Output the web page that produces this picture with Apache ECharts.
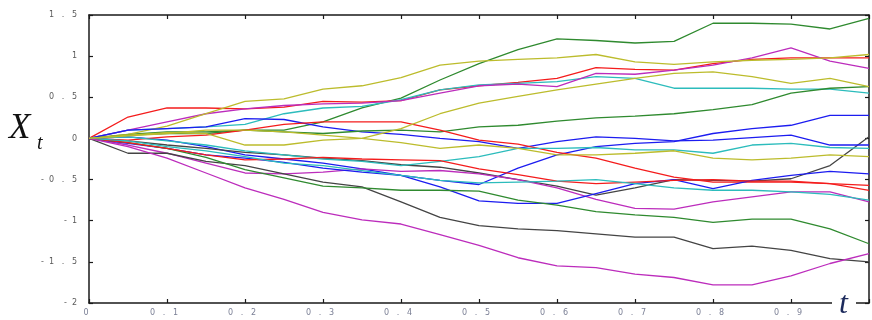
<!DOCTYPE html>
<html><head><meta charset="utf-8">
<script src="https://cdn.jsdelivr.net/npm/echarts@6/dist/echarts.min.js"></script>
<style>html,body{margin:0;padding:0;background:#fff}#c{width:872px;height:320px}</style>
</head><body><div id="c"></div>
<script>
// time grid (t)
const tValues = [0,0.05,0.1,0.15,0.2,0.25,0.3,0.35,0.4,0.45,0.5,0.55,0.6,0.65,0.7,0.75,0.8,0.85,0.9,0.95,1.0];

// paths (X_t at each t)
const blue1   = [0,0.02,-0.02,-0.1,-0.2,-0.25,-0.3,-0.37,-0.45,-0.51,-0.56,-0.36,-0.2,-0.1,-0.06,-0.04,0.06,0.12,0.16,0.28,0.28];
const green1  = [0,0.05,0.08,0.08,0.10,0.10,0.20,0.37,0.49,0.71,0.91,1.08,1.21,1.19,1.16,1.18,1.40,1.40,1.39,1.33,1.46];
const red1    = [0,0.26,0.37,0.37,0.36,0.38,0.45,0.44,0.46,0.59,0.64,0.68,0.73,0.86,0.84,0.83,0.91,0.96,0.98,0.98,0.98];
const cyan1   = [0,0.1,0.12,0.14,0.17,0.3,0.37,0.39,0.47,0.59,0.65,0.67,0.69,0.75,0.73,0.61,0.61,0.61,0.60,0.60,0.55];
const magenta1= [0,0.1,0.2,0.3,0.36,0.40,0.42,0.43,0.46,0.55,0.64,0.66,0.63,0.79,0.78,0.83,0.89,0.98,1.10,0.94,0.85];
const yellow1 = [0,0.05,0.15,0.3,0.45,0.48,0.6,0.64,0.74,0.89,0.94,0.96,0.98,1.02,0.93,0.90,0.93,0.95,0.96,0.98,1.02];
const black1  = [0,-0.03,-0.08,-0.12,-0.17,-0.2,-0.24,-0.27,-0.32,-0.35,-0.42,-0.5,-0.58,-0.69,-0.6,-0.5,-0.51,-0.52,-0.49,-0.33,0.02];
const blue2   = [0,0.1,0.12,0.14,0.24,0.23,0.14,0.08,0.05,0.0,-0.04,-0.12,-0.04,0.02,0.0,-0.03,-0.02,0.01,0.04,-0.08,-0.08];
const green2  = [0,0.04,0.06,0.06,0.1,0.08,0.06,0.09,0.1,0.08,0.14,0.16,0.21,0.25,0.27,0.3,0.35,0.41,0.55,0.61,0.63];
const red2    = [0,-0.02,0.02,0.04,0.1,0.17,0.2,0.2,0.2,0.1,-0.02,-0.07,-0.17,-0.24,-0.36,-0.47,-0.53,-0.53,-0.53,-0.55,-0.63];
const cyan2   = [0,0.02,-0.03,-0.08,-0.15,-0.2,-0.25,-0.28,-0.33,-0.28,-0.22,-0.12,-0.12,-0.11,-0.14,-0.14,-0.18,-0.08,-0.06,-0.11,-0.12];
const magenta2= [0,-0.08,-0.18,-0.3,-0.42,-0.43,-0.41,-0.37,-0.4,-0.39,-0.43,-0.5,-0.6,-0.74,-0.85,-0.86,-0.77,-0.71,-0.65,-0.65,-0.77];
const yellow2 = [0,0.04,0.07,0.06,-0.08,-0.08,-0.02,0.0,0.12,0.30,0.43,0.51,0.59,0.66,0.73,0.79,0.81,0.75,0.67,0.73,0.63];
const black2  = [0,-0.18,-0.18,-0.28,-0.33,-0.43,-0.53,-0.59,-0.77,-0.96,-1.06,-1.1,-1.12,-1.16,-1.2,-1.2,-1.34,-1.31,-1.36,-1.46,-1.5];
const blue3   = [0,-0.06,-0.12,-0.2,-0.24,-0.29,-0.36,-0.41,-0.45,-0.59,-0.76,-0.79,-0.79,-0.67,-0.55,-0.5,-0.61,-0.51,-0.45,-0.4,-0.43];
const green3  = [0,-0.05,-0.12,-0.23,-0.38,-0.48,-0.58,-0.6,-0.63,-0.63,-0.64,-0.75,-0.81,-0.89,-0.93,-0.96,-1.02,-0.98,-0.98,-1.1,-1.28];
const red3    = [0,-0.05,-0.12,-0.2,-0.26,-0.25,-0.23,-0.25,-0.26,-0.27,-0.37,-0.44,-0.52,-0.55,-0.53,-0.51,-0.5,-0.52,-0.52,-0.55,-0.57];
const cyan3   = [0,-0.03,-0.1,-0.15,-0.22,-0.3,-0.33,-0.39,-0.45,-0.51,-0.54,-0.53,-0.52,-0.5,-0.55,-0.6,-0.63,-0.63,-0.65,-0.68,-0.75];
const magenta3= [0,-0.1,-0.24,-0.42,-0.6,-0.74,-0.9,-0.99,-1.04,-1.17,-1.3,-1.45,-1.55,-1.57,-1.65,-1.69,-1.78,-1.78,-1.67,-1.52,-1.4];
const yellow3 = [0,0.03,0.06,0.1,0.1,0.08,0.04,0.0,-0.05,-0.12,-0.08,-0.12,-0.2,-0.2,-0.18,-0.15,-0.24,-0.26,-0.24,-0.2,-0.22];

// tick labels
const xTickValues = [0,0.1,0.2,0.3,0.4,0.5,0.6,0.7,0.8,0.9,1];
const xTickLabels = ['0','0   .   1','0   .   2','0   .   3','0   .   4','0   .   5','0   .   6','0   .   7','0   .   8','0   .   9',''];
const yTickValues = [-2,-1.5,-1,-0.5,0,0.5,1,1.5];
const yTickLabels = ['-  2','-  1   .   5','-  1','-  0   .   5','0','0   .   5','1','1   .   5'];

const pathList = [
  [blue1,'#1c1cf0'],[green1,'#2f8a2f'],[red1,'#f41c1c'],[cyan1,'#2cbcbc'],[magenta1,'#bc2cbc'],[yellow1,'#bcbc2c'],[black1,'#444444'],
  [blue2,'#1c1cf0'],[green2,'#2f8a2f'],[red2,'#f41c1c'],[cyan2,'#2cbcbc'],[magenta2,'#bc2cbc'],[yellow2,'#bcbc2c'],[black2,'#444444'],
  [blue3,'#1c1cf0'],[green3,'#2f8a2f'],[red3,'#f41c1c'],[cyan3,'#2cbcbc'],[magenta3,'#bc2cbc'],[yellow3,'#bcbc2c']
];

function lab(values, labels){
  return function(v){
    for (let i=0;i<values.length;i++){ if (Math.abs(values[i]-v)<1e-6) return labels[i]; }
    return '';
  };
}

const chart = echarts.init(document.getElementById('c'), null, {renderer:'canvas'});
const axisLineStyle = {color:'#1a1a1a', width:1.5};
chart.setOption({
  animation:false,
  backgroundColor:'#ffffff',
  grid:{left:89, top:15, width:788, height:288},
  xAxis:[
    {type:'value', min:0, max:1, interval:0.1, position:'bottom',
     axisLine:{show:true, onZero:false, lineStyle:axisLineStyle},
     axisTick:{show:true, inside:true, length:4, lineStyle:{color:'#1a1a1a', width:1.2}},
     axisLabel:{formatter:lab(xTickValues,xTickLabels), color:'#7a7f95', fontSize:8, fontFamily:'DejaVu Sans', margin:6, padding:[0,6,0,0]},
     splitLine:{show:false}},
    {type:'value', min:0, max:1, interval:0.1, position:'top',
     axisLine:{show:true, onZero:false, lineStyle:axisLineStyle},
     axisTick:{show:true, inside:true, length:4, lineStyle:{color:'#1a1a1a', width:1.2}},
     axisLabel:{show:false}, splitLine:{show:false}}
  ],
  yAxis:[
    {type:'value', min:-2, max:1.5, interval:0.5, position:'left',
     axisLine:{show:true, onZero:false, lineStyle:axisLineStyle},
     axisTick:{show:true, inside:true, length:4, lineStyle:{color:'#1a1a1a', width:1.2}},
     axisLabel:{formatter:lab(yTickValues,yTickLabels), color:'#5a5a5a', fontSize:8, fontFamily:'DejaVu Sans', margin:12},
     splitLine:{show:false}},
    {type:'value', min:-2, max:1.5, interval:0.5, position:'right',
     axisLine:{show:true, onZero:false, lineStyle:axisLineStyle},
     axisTick:{show:true, inside:true, length:4, lineStyle:{color:'#1a1a1a', width:1.2}},
     axisLabel:{show:false}, splitLine:{show:false}}
  ],
  series: pathList.map(function(p){
    return {type:'line', xAxisIndex:0, yAxisIndex:0, showSymbol:false, silent:true,
      data: tValues.map(function(t,i){return [t, p[0][i]];}),
      lineStyle:{color:p[1], width:1.3}, itemStyle:{color:p[1]}};
  }),
  graphic:[
    {type:'text', left:9, top:111, style:{text:'X', font:'italic 35px "Liberation Serif"', fill:'#111111'}},
    {type:'text', left:37, top:134, style:{text:'t', font:'italic 20px "Liberation Serif"', fill:'#111111'}},
    {type:'rect', shape:{x:832, y:299, width:24, height:8}, style:{fill:'#ffffff'}, z:100},
    {type:'text', left:839, top:289, z:101, style:{text:'t', font:'italic 32px "Liberation Serif"', fill:'#1c2a5c'}}
  ]
});
</script></body></html>
